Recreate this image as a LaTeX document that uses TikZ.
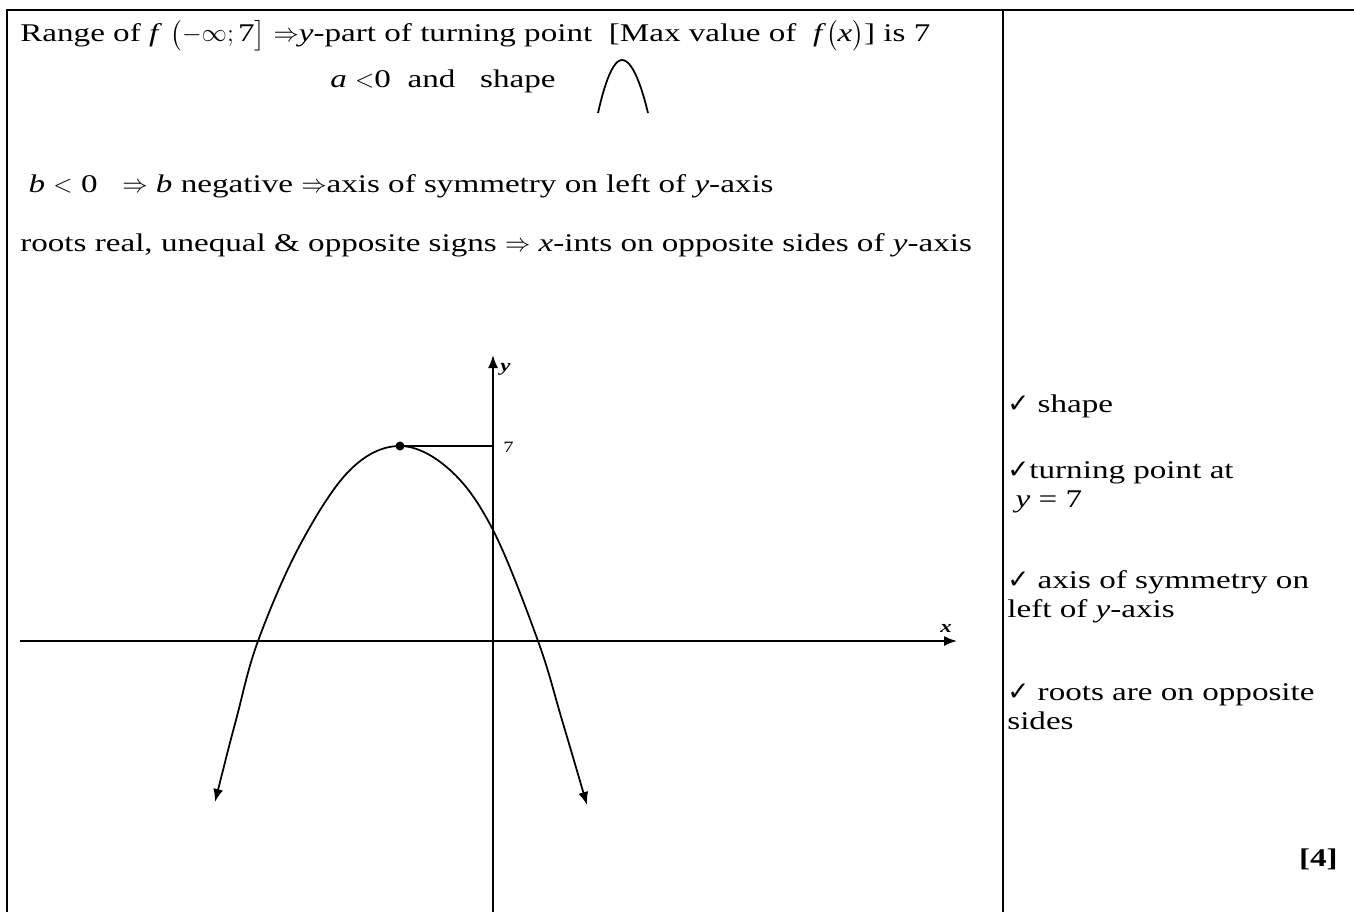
\documentclass[tikz,border=0pt]{standalone}
\usepackage{amsmath}
\usepackage{amssymb}
\usepackage{fontspec}
\setmainfont{Liberation Serif}[FakeStretch=1.3]
\newfontfamily\symfont{DejaVu Sans}
\usepackage{tikz}
\usetikzlibrary{arrows.meta}

\newcommand{\tick}{{\symfont\fontsize{15}{17}\selectfont ✓}}

\tikzset{
	txt/.style={anchor=base west, inner sep=0pt, font=\fontsize{14.5}{17}\selectfont},
	small/.style={anchor=base west, inner sep=0pt, font=\fontsize{9}{11}\selectfont},
}

\begin{document}
\begin{tikzpicture}[x=0.02cm, y=-0.02cm, >={Latex[length=2.6mm, width=2mm]}]
			\useasboundingbox (0,0) rectangle (1354,912);
			
			% CADRE
			\draw[line width=1.6] (7,912) -- (7,10) -- (1354,10);
			\draw[line width=1.6] (1003,10) -- (1003,912);
			
			% TEXTE HAUT
			\node[txt] (range) at (20,42) {Range of \textit{f} $\bigl(-\infty;\text{7}\bigr]$ $\Rightarrow$\textit{y}-part of turning point\ \ [Max value of\ \ \textit{f}$\bigl($\textit{x}$\bigr)$] is 7};
			\node[txt] (aneg) at (330,88) {\textit{a} $<$0\ \ and\ \ \ shape};
			\draw[line width=1] (598,113) parabola bend (622,60) (648,113);
			
			\node[txt] (bneg) at (20,193) {\ \textit{b} $<$ 0\ \ \ $\Rightarrow$ \textit{b} negative $\Rightarrow$axis of symmetry on left of \textit{y}-axis};
			\node[txt] (roots) at (20,251) {roots real, unequal \& opposite signs $\Rightarrow$ \textit{x}-ints on opposite sides of \textit{y}-axis};
			
			% AXES
			\coordinate (xl) at (20,641);
			\coordinate (xr) at (957,641);
			\coordinate (yb) at (493,912);
			\coordinate (yt) at (493,355);
			\draw[->, line width=1] (xl) -- (xr);
			\draw[->, line width=1] (yb) -- (yt);
			\node[small, font=\fontsize{10}{12}\selectfont\bfseries\itshape] (ylab) at (500,371) {y};
			\node[small, font=\fontsize{10}{12}\selectfont\bfseries\itshape] (xlab) at (940,632) {x};
			
			% PARABOLE
			\coordinate (top) at (400,446);
			\coordinate (ymax) at (493,446);
			\draw[line width=1] (top) -- (ymax);
			\node[small] (seven) at (503,452) {7};
			\fill (top) circle (4.5);
			\draw[<->, line width=1] plot[smooth, tension=0.6] coordinates {(215,802) (236,720) (258,641) (300,545) (350,470) (400,446) (450,470) (493,530) (538,641) (562,720) (587,805)};
			
			% BAREME
			\node[txt] (m1) at (1007,412) {\tick\ shape};
			\node[txt] (m2) at (1007,478) {\tick turning point at};
			\node[txt] (m2b) at (1007,507) {\ \textit{y} = 7};
			\node[txt] (m3) at (1007,588) {\tick\ axis of symmetry on};
			\node[txt] (m3b) at (1007,617) {left of \textit{y}-axis};
			\node[txt] (m4) at (1007,700) {\tick\ roots are on opposite};
			\node[txt] (m4b) at (1007,729) {sides};
			\node[txt, anchor=base east, font=\fontsize{14.5}{17}\selectfont\bfseries] (mark) at (1338,866) {[4]};
			
		\end{tikzpicture}
\end{document}
